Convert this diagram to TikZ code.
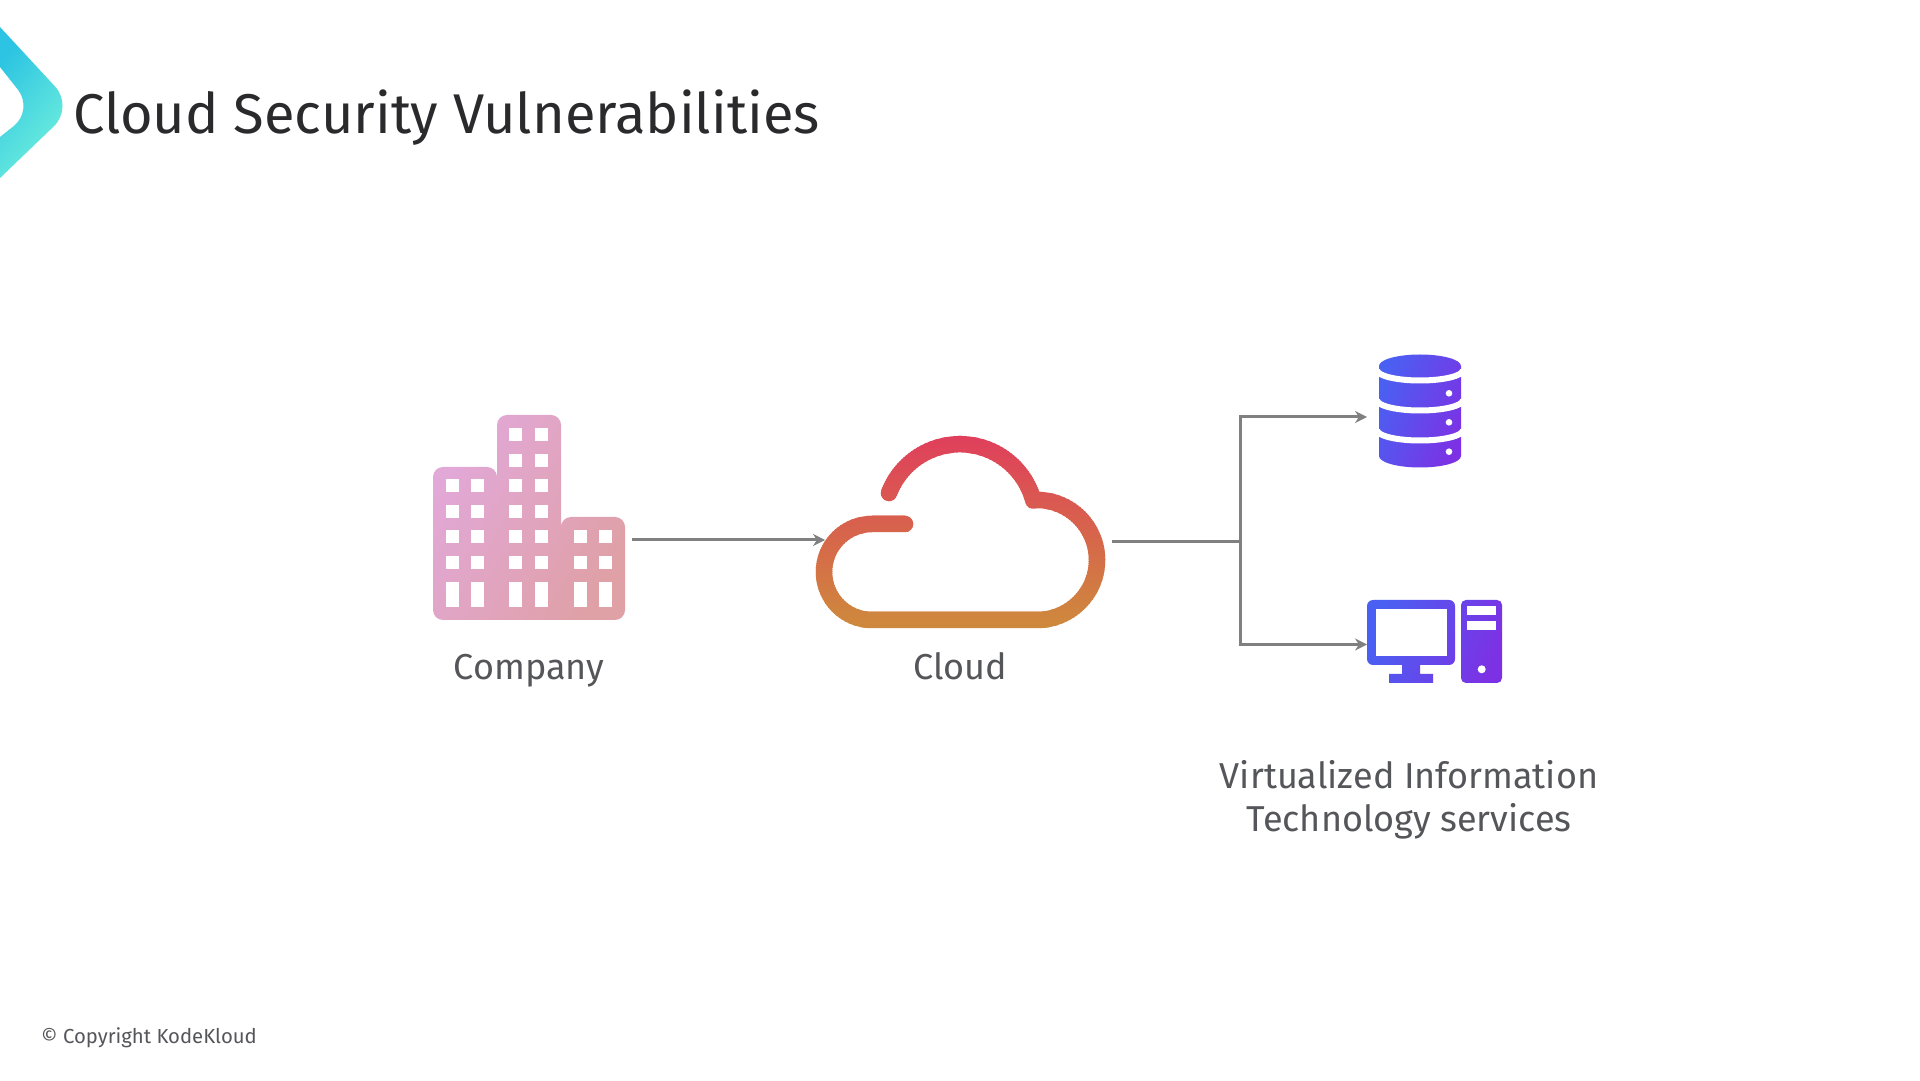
\documentclass[tikz,border=0pt]{standalone}
\usepackage{fontspec}
\setmainfont{Fira Sans}
\usetikzlibrary{arrows.meta,positioning,calc}

\definecolor{flowgray}{HTML}{808080}
\definecolor{textgray}{HTML}{55565A}
\definecolor{titledark}{HTML}{2A2A2C}
\definecolor{cloudtop}{HTML}{E03E5C}
\definecolor{cloudbot}{HTML}{CE8A3C}
\definecolor{iconblue}{HTML}{4A60F2}
\definecolor{iconviolet}{HTML}{7C32E4}
\definecolor{towerpink}{HTML}{E2A8D8}
\definecolor{towerrose}{HTML}{DFA0A6}
\definecolor{arrowcyan}{HTML}{2CC4E2}
\definecolor{arrowmint}{HTML}{74F2DC}

\tikzset{
    iconbox/.style={inner sep=0pt,outer sep=0pt,draw=none},
    flowline/.style={draw=flowgray,line width=3pt},
    flow/.style={flowline,-{Stealth[length=12pt,width=12pt]}},
    caption/.style={text=textgray,font=\fontsize{36}{43}\selectfont,inner sep=0pt},
    iconshade/.style={left color=iconblue,right color=iconviolet,shading angle=70},
}

% stroke of the cloud, painted band by band for the gradient
\newcommand{\cloudpath}{(889,587) arc[start angle=159,end angle=15,radius=76] -- (1037,580) arc[start angle=90,end angle=-90,radius=60] -- (872,460) arc[start angle=-90,end angle=-270,radius=48] -- (905,556)}

\begin{document}
\begin{tikzpicture}[x=1pt,y=1pt]
    \useasboundingbox (0,0) rectangle (1920,1080);
    \fill[white] (0,0) rectangle (1920,1080);

    \shade[left color=arrowcyan,right color=arrowmint,shading angle=50]
        (0,1053) [rounded corners=28pt] -- (74,973) [sharp corners] -- (0,902) -- (0,943)
        [rounded corners=26pt] -- (34,970) [sharp corners] -- (0,1013) -- cycle;
    \node[anchor=base west,inner sep=0pt,text=titledark,font=\fontsize{56}{60}\selectfont] (title) at (73,946) {Cloud Security Vulnerabilities};

    \node[iconbox,minimum width=192pt,minimum height=205pt] (company) at (529,562.5) {};
    \node[iconbox,minimum width=289pt,minimum height=191pt] (cloud) at (960.5,547.5) {};
    \node[iconbox,minimum width=82pt,minimum height=112pt] (store) at (1420,669) {};
    \node[iconbox,minimum width=135pt,minimum height=83pt] (desktop) at (1434.5,438.5) {};
    \coordinate (fork) at (1240,538.5);

    \draw[flow] ([shift={(7,-22.5)}]company.east) -- ([shift={(9,-7.5)}]cloud.west);
    \draw[flowline] ([shift={(7,-9)}]cloud.east) -- (fork);
    \draw[flow] (fork) |- ([shift={(-12,-6)}]store.west);
    \draw[flow] (fork) |- ([shift={(0,-3)}]desktop.west);

    % company
    \shade[left color=towerpink,right color=towerrose,shading angle=60]
        [rounded corners=10pt] (433,460) rectangle (497,613)
        (497,460) rectangle (561,665)
        (561,460) rectangle (625,563)
        [sharp corners] (445,460) rectangle (613,480);
    \foreach \wx in {445.7,471.3,509.3,535,573.7,599.3} {
        \foreach \wy in {536.7,511} \fill[white] (\wx,\wy) rectangle +(13,13);
        \fill[white] (\wx,472.7) rectangle +(13,25.6);
    }
    \foreach \wx in {445.7,471.3,509.3,535}
        \foreach \wy in {587.7,562.3} \fill[white] (\wx,\wy) rectangle +(13,13);
    \foreach \wx in {509.3,535}
        \foreach \wy in {639.3,613.3} \fill[white] (\wx,\wy) rectangle +(13,13);

    % cloud
    \foreach \by [evaluate=\by as \pct using (\by-450)/195*100] in {450,452,...,644} {
        \begin{scope}
            \clip (800,\by) rectangle (1120,\by+2.4);
            \draw[line width=16.5pt,line cap=round,line join=round,draw=cloudtop!\pct!cloudbot] \cloudpath;
        \end{scope}
    }

    % database
    \shade[iconshade] (1379,714) arc[start angle=180,end angle=0,x radius=41,y radius=11.5]
        -- (1461,624) arc[start angle=0,end angle=-180,x radius=41,y radius=11.5] -- cycle;
    \foreach \by in {710,680,650}
        \draw[white,line width=6pt] (1377,\by) arc[start angle=180,end angle=360,x radius=43,y radius=10.5];
    \foreach \by in {686.7,657.7,628.3}
        \fill[white] (1449,\by) circle[radius=3.3];

    % desktop
    \shade[iconshade]
        [rounded corners=6pt] (1367,415) rectangle (1455,480)
        [sharp corners] (1402,405) rectangle (1420,416)
        (1389,397) rectangle (1433,406)
        [rounded corners=5pt] (1461,397) rectangle (1502,480);
    \fill[white] (1375.7,424) rectangle (1446.7,471.3);
    \fill[white] (1467,464.7) rectangle (1496,474.3);
    \fill[white] (1467,450) rectangle (1496,459.3);
    \fill[white] (1481.7,410.7) circle[radius=4];

    \node[caption,anchor=base] (companylabel) at (529,400) {Company};
    \node[caption,anchor=base] (cloudlabel) at (960.5,400) {Cloud};
    \node[caption,align=center] (serviceslabel) at (1409,280) {Virtualized Information\\Technology services};
    \node[anchor=base west,inner sep=0pt,text=textgray,font=\fontsize{20.3}{24}\selectfont] (copyright) at (41,37) {© Copyright KodeKloud};
\end{tikzpicture}
\end{document}
